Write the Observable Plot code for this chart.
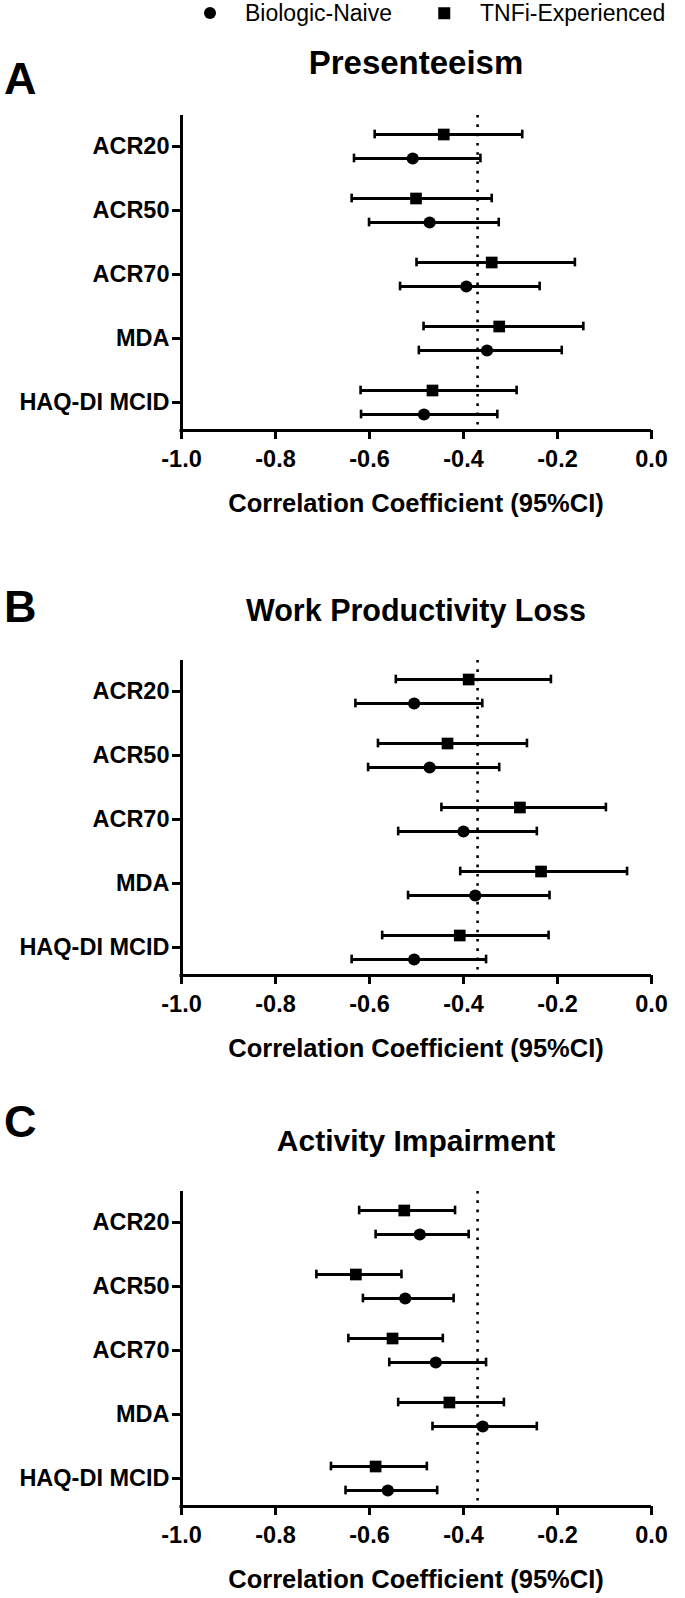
<!DOCTYPE html>
<html><head><meta charset="utf-8">
<script src="https://cdn.jsdelivr.net/npm/d3@7"></script>
<script src="https://cdn.jsdelivr.net/npm/@observablehq/plot@0.6"></script>
<style>
html,body{margin:0;padding:0;background:#fff;}
#root{position:relative;width:685px;height:1598px;font-family:"Liberation Sans",Arial,sans-serif;color:#000;overflow:hidden;}
.abs{position:absolute;white-space:nowrap;line-height:1;}
.letter{font-weight:bold;font-size:45px;transform:translateY(-50%);}
.ctr{transform:translate(-50%,-50%);}
.title{font-weight:bold;font-size:31px;}
.xtitle{font-weight:bold;font-size:25.5px;}
.leg{font-size:23px;transform:translateY(-50%);}
.mk{position:absolute;background:#000;transform:translate(-50%,-50%);}
.panel{position:absolute;left:0;}
.panel svg text{font-family:"Liberation Sans",Arial,sans-serif;font-weight:bold;font-size:23.5px;}
</style></head><body><div id="root"></div>
<script>
// ---- data ----
const categories = ["ACR20", "ACR50", "ACR70", "MDA", "HAQ-DI MCID"];
const xTicks = [-1.0, -0.8, -0.6, -0.4, -0.2, 0.0];
const refLine = -0.37;
const seriesNames = ["Biologic-Naive", "TNFi-Experienced"];
const panelLetters = ["A", "B", "C"];
const panelTitles = ["Presenteeism", "Work Productivity Loss", "Activity Impairment"];
const xAxisTitle = "Correlation Coefficient (95%CI)";

// A: Presenteeism
const presNaiveR  = [-0.508, -0.472, -0.394, -0.350, -0.484];
const presNaiveLo = [-0.633, -0.601, -0.535, -0.495, -0.618];
const presNaiveHi = [-0.364, -0.325, -0.238, -0.191, -0.328];
const presTnfiR   = [-0.442, -0.501, -0.340, -0.324, -0.466];
const presTnfiLo  = [-0.589, -0.638, -0.500, -0.485, -0.619];
const presTnfiHi  = [-0.275, -0.340, -0.163, -0.145, -0.287];
// B: Work Productivity Loss
const wplNaiveR  = [-0.505, -0.472, -0.400, -0.375, -0.505];
const wplNaiveLo = [-0.630, -0.603, -0.539, -0.518, -0.638];
const wplNaiveHi = [-0.360, -0.324, -0.244, -0.217, -0.352];
const wplTnfiR   = [-0.389, -0.434, -0.280, -0.235, -0.408];
const wplTnfiLo  = [-0.544, -0.582, -0.447, -0.407, -0.573];
const wplTnfiHi  = [-0.214, -0.265, -0.097, -0.052, -0.219];
// C: Activity Impairment
const actNaiveR  = [-0.493, -0.524, -0.459, -0.359, -0.561];
const actNaiveLo = [-0.587, -0.614, -0.558, -0.466, -0.651];
const actNaiveHi = [-0.389, -0.421, -0.352, -0.244, -0.456];
const actTnfiR   = [-0.526, -0.629, -0.551, -0.430, -0.587];
const actTnfiLo  = [-0.622, -0.713, -0.645, -0.539, -0.682];
const actTnfiHi  = [-0.418, -0.532, -0.444, -0.314, -0.478];

// ---- layout ----
const root = document.getElementById("root");
const W = 685, ML = 181, MR = 34, MT = 10, MB = 40, FH = 315;
const FW = W - ML - MR;
const CX = ML + FW / 2;
const panels = [
  {top: 115, letterDy: -37, titleDy: -53, titleSize: 33, naive: [presNaiveR, presNaiveLo, presNaiveHi], tnfi: [presTnfiR, presTnfiLo, presTnfiHi]},
  {top: 660, letterDy: -54, titleDy: -50, titleSize: 30.5, naive: [wplNaiveR, wplNaiveLo, wplNaiveHi], tnfi: [wplTnfiR, wplTnfiLo, wplTnfiHi]},
  {top: 1191, letterDy: -70, titleDy: -50, titleSize: 30, naive: [actNaiveR, actNaiveLo, actNaiveHi], tnfi: [actTnfiR, actTnfiLo, actTnfiHi]}
];

function addDiv(cls, text, left, top) {
  const d = document.createElement("div");
  d.className = "abs " + cls;
  d.textContent = text;
  d.style.left = left + "px";
  d.style.top = top + "px";
  root.appendChild(d);
  return d;
}

// legend
const legY = 13;
const m1 = document.createElement("div");
m1.className = "mk"; m1.style.cssText += "left:210px;top:" + legY + "px;width:12px;height:12px;border-radius:50%;";
root.appendChild(m1);
addDiv("leg", seriesNames[0], 245, legY);
const m2 = document.createElement("div");
m2.className = "mk"; m2.style.cssText += "left:444px;top:" + legY + "px;width:11.5px;height:11.5px;";
root.appendChild(m2);
addDiv("leg", seriesNames[1], 480, legY);

const STEP = 64.3, FIRST = 30, OFF = 12, CAP = 4.5;
const capInset = STEP / 2 - CAP;

panels.forEach((p, k) => {
  addDiv("letter", panelLetters[k], 4, p.top + p.letterDy);
  const t = addDiv("title ctr", panelTitles[k], CX, p.top + p.titleDy);
  t.style.fontSize = p.titleSize + "px";
  addDiv("xtitle ctr", xAxisTitle, CX, p.top + FH + 74);

  const mkRows = (arr) => categories.map((c, i) => ({cat: c, r: arr[0][i], lo: arr[1][i], hi: arr[2][i]}));
  const tn = mkRows(p.tnfi), bn = mkRows(p.naive);
  const marks = [
    Plot.ruleX([refLine], {strokeDasharray: "2.6 6.7", strokeWidth: 2.6, stroke: "#000"}),
    Plot.ruleX([-1], {strokeWidth: 3, stroke: "#000", insetBottom: -1.5}),
    Plot.ruleY([0], {y: null, x1: -1, x2: 0, dy: FH / 2, strokeWidth: 3, stroke: "#000", insetLeft: -1.5}),
    Plot.tickX(xTicks, {x: d => d, insetTop: FH, insetBottom: -9, strokeWidth: 3, stroke: "#000"}),
    Plot.tickY(categories, {y: d => d, insetLeft: -9, insetRight: FW, strokeWidth: 3, stroke: "#000"})
  ];
  for (const [data, dy, sym, r] of [[tn, -OFF, "square", 6.6], [bn, OFF, "circle", 6.1]]) {
    marks.push(Plot.ruleY(data, {y: "cat", x1: "lo", x2: "hi", dy, strokeWidth: 2.8, stroke: "#000"}));
    marks.push(Plot.tickX(data, {x: "lo", y: "cat", dy, insetTop: capInset, insetBottom: capInset, strokeWidth: 2.6, stroke: "#000"}));
    marks.push(Plot.tickX(data, {x: "hi", y: "cat", dy, insetTop: capInset, insetBottom: capInset, strokeWidth: 2.6, stroke: "#000"}));
    marks.push(Plot.dot(data, {x: "r", y: "cat", dy, symbol: sym, r, fill: "#000", stroke: "none"}));
  }
  const chart = Plot.plot({
    width: W, height: MT + FH + MB,
    marginLeft: ML, marginRight: MR, marginTop: MT, marginBottom: MB,
    style: {fontFamily: "Liberation Sans, Arial, sans-serif", fontWeight: "bold", fontSize: "23.5px", background: "transparent", overflow: "visible"},
    x: {domain: [-1, 0], ticks: xTicks, tickFormat: d => d.toFixed(1), tickSize: 0, tickPadding: 20, label: null},
    y: {type: "band", domain: categories, range: [MT + FIRST - STEP / 2, MT + FIRST + 4.5 * STEP], padding: 0, tickSize: 0, tickPadding: 12, label: null},
    marks
  });
  const wrap = document.createElement("div");
  wrap.className = "panel";
  wrap.style.top = (p.top - MT) + "px";
  wrap.appendChild(chart);
  root.appendChild(wrap);
});
</script>
</body></html>
